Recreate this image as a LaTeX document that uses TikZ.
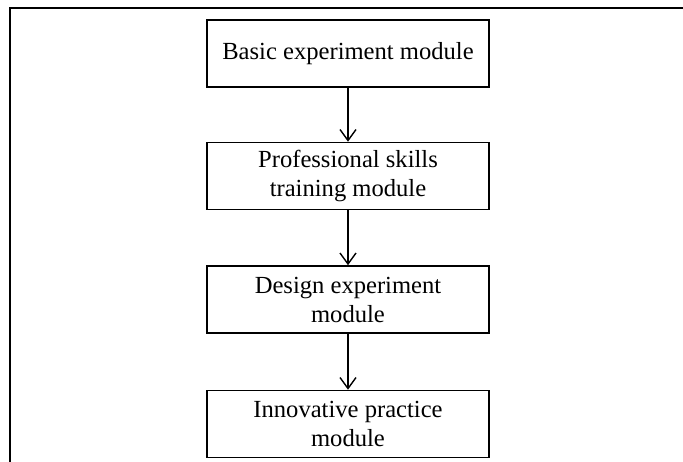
\documentclass[tikz,border=0pt]{standalone}
\usepackage{fontspec}
\setmainfont{Liberation Serif}
\usetikzlibrary{arrows.meta}
\begin{document}
\begin{tikzpicture}[x=1pt,y=1pt,
  modbox/.style={draw=black, line width=1.6pt, minimum width=282pt, minimum height=67pt,
    inner sep=0pt, align=center, font=\fontsize{24.6}{29}\selectfont},
  flow/.style={line width=1.4pt, -{Straight Barb[length=11pt,width=16pt,line width=1.4pt]}}]
\useasboundingbox (0,0) rectangle (683,-462);
\fill[white] (0,0) rectangle (683,-462);
\draw[line width=1.4pt] (10,-462) -- (10,-8) -- (683,-8);
\node[modbox] (b1) at (348,-53.5) {Basic experiment module};
\node[modbox] (b2) at (348,-176) {Professional skills\\training module};
\node[modbox] (b3) at (348,-299.5) {Design experiment\\module};
\node[modbox] (b4) at (348,-424) {Innovative practice\\module};
\draw[flow] (b1) -- (b2);
\draw[flow] (b2) -- (b3);
\draw[flow] (b3) -- (b4);
\end{tikzpicture}
\end{document}
